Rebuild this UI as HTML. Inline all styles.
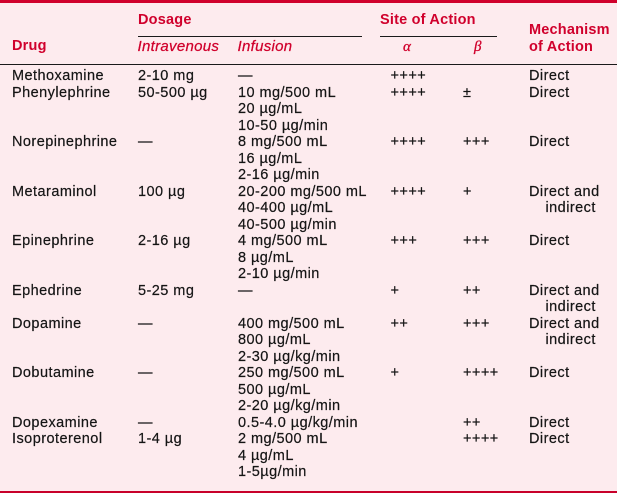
<!DOCTYPE html>
<html><head><meta charset="utf-8"><style>
html,body{margin:0;padding:0}
body{width:617px;height:493px;background:#fdebee;position:relative;overflow:hidden;font-family:"Liberation Sans",sans-serif;color:#151515}
.t{position:absolute;white-space:nowrap;font-size:14.5px;line-height:16.5px;letter-spacing:0.3px}
.h{color:#d0002c;font-weight:bold;letter-spacing:0.2px}
.i{color:#d0002c;font-style:italic;font-size:15px;letter-spacing:0.3px;-webkit-text-stroke:0.25px #d0002c}
.g{color:#d0002c;font-style:italic;font-family:"Liberation Serif",serif;font-size:15px;-webkit-text-stroke:0.3px #d0002c}
.r{position:absolute;background:#1a1a1a;height:1px}
.l{position:absolute;left:0;width:617px;height:16.5px}
.l span{position:absolute;top:0;white-space:nowrap;font-size:14.5px;line-height:16.5px;letter-spacing:0.45px;-webkit-text-stroke:0.2px #151515}
.c0{left:12px}.c1{left:138px}.c2{left:238px}.c3{left:390.5px}.c4{left:463px}.c5{left:529px}.c6{left:545.5px}
</style></head><body>
<div style="position:absolute;left:0;top:0;width:617px;height:3px;background:#d0002c"></div>
<div style="position:absolute;left:0;top:491px;width:617px;height:2px;background:#c8002a"></div>

<div class="t h" style="left:138px;top:11.7px">Dosage</div>
<div class="t h" style="left:380px;top:11.7px">Site of Action</div>
<div class="t h" style="left:529px;top:22.4px">Mechanism</div>
<div class="t h" style="left:12px;top:38.2px">Drug</div>
<div class="t h" style="left:529px;top:38.7px">of Action</div>
<div class="t i" style="left:137.5px;top:38.5px">Intravenous</div>
<div class="t i" style="left:237.5px;top:38.5px">Infusion</div>
<div class="t g" style="left:403px;top:38.5px">α</div>
<div class="t g" style="left:474px;top:38.5px">β</div>

<div class="r" style="left:138px;top:35.5px;width:224px"></div>
<div class="r" style="left:380px;top:35.5px;width:117px"></div>
<div class="r" style="left:0;top:63.5px;width:617px"></div>

<div class="l" style="top:68px"><span class="c0">Methoxamine</span><span class="c1">2-10 mg</span><span class="c2">—</span><span class="c3">++++</span><span class="c5">Direct</span></div>
<div class="l" style="top:84.5px"><span class="c0">Phenylephrine</span><span class="c1">50-500 µg</span><span class="c2">10 mg/500 mL</span><span class="c3">++++</span><span class="c4">±</span><span class="c5">Direct</span></div>
<div class="l" style="top:101px"><span class="c2">20 µg/mL</span></div>
<div class="l" style="top:117.5px"><span class="c2">10-50 µg/min</span></div>
<div class="l" style="top:134px"><span class="c0">Norepinephrine</span><span class="c1">—</span><span class="c2">8 mg/500 mL</span><span class="c3">++++</span><span class="c4">+++</span><span class="c5">Direct</span></div>
<div class="l" style="top:150.5px"><span class="c2">16 µg/mL</span></div>
<div class="l" style="top:167px"><span class="c2">2-16 µg/min</span></div>
<div class="l" style="top:183.5px"><span class="c0">Metaraminol</span><span class="c1">100 µg</span><span class="c2">20-200 mg/500 mL</span><span class="c3">++++</span><span class="c4">+</span><span class="c5">Direct and</span></div>
<div class="l" style="top:200px"><span class="c2">40-400 µg/mL</span><span class="c6">indirect</span></div>
<div class="l" style="top:216.5px"><span class="c2">40-500 µg/min</span></div>
<div class="l" style="top:233px"><span class="c0">Epinephrine</span><span class="c1">2-16 µg</span><span class="c2">4 mg/500 mL</span><span class="c3">+++</span><span class="c4">+++</span><span class="c5">Direct</span></div>
<div class="l" style="top:249.5px"><span class="c2">8 µg/mL</span></div>
<div class="l" style="top:266px"><span class="c2">2-10 µg/min</span></div>
<div class="l" style="top:282.5px"><span class="c0">Ephedrine</span><span class="c1">5-25 mg</span><span class="c2">—</span><span class="c3">+</span><span class="c4">++</span><span class="c5">Direct and</span></div>
<div class="l" style="top:299px"><span class="c6">indirect</span></div>
<div class="l" style="top:315.5px"><span class="c0">Dopamine</span><span class="c1">—</span><span class="c2">400 mg/500 mL</span><span class="c3">++</span><span class="c4">+++</span><span class="c5">Direct and</span></div>
<div class="l" style="top:332px"><span class="c2">800 µg/mL</span><span class="c6">indirect</span></div>
<div class="l" style="top:348.5px"><span class="c2">2-30 µg/kg/min</span></div>
<div class="l" style="top:365px"><span class="c0">Dobutamine</span><span class="c1">—</span><span class="c2">250 mg/500 mL</span><span class="c3">+</span><span class="c4">++++</span><span class="c5">Direct</span></div>
<div class="l" style="top:381.5px"><span class="c2">500 µg/mL</span></div>
<div class="l" style="top:398px"><span class="c2">2-20 µg/kg/min</span></div>
<div class="l" style="top:414.5px"><span class="c0">Dopexamine</span><span class="c1">—</span><span class="c2">0.5-4.0 µg/kg/min</span><span class="c4">++</span><span class="c5">Direct</span></div>
<div class="l" style="top:431px"><span class="c0">Isoproterenol</span><span class="c1">1-4 µg</span><span class="c2">2 mg/500 mL</span><span class="c4">++++</span><span class="c5">Direct</span></div>
<div class="l" style="top:447.5px"><span class="c2">4 µg/mL</span></div>
<div class="l" style="top:464px"><span class="c2">1-5µg/min</span></div>
</body></html>
